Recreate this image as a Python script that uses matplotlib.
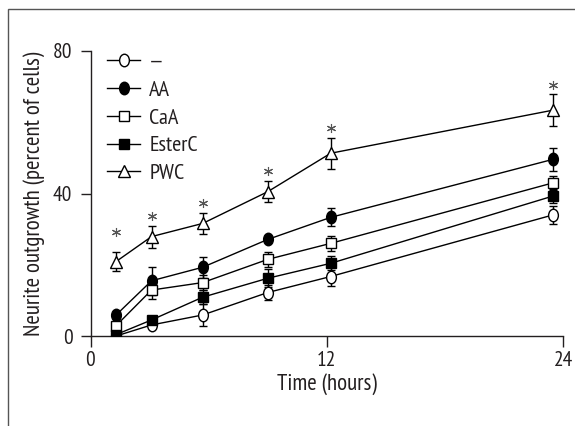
import matplotlib
matplotlib.use("Agg")
import matplotlib.pyplot as plt
from matplotlib.lines import Line2D
from matplotlib.path import Path
from matplotlib.transforms import Affine2D, offset_copy
from matplotlib.patches import Rectangle

plt.rcParams['font.family'] = ['PT Sans Narrow', 'Fira Sans Condensed', 'DejaVu Sans']
ink = '#231f20'

# time points (hours) as drawn
hours = [1.3, 3.1, 5.7, 9.0, 12.2, 23.5]

ctrl = [0.0, 3.1, 5.9, 12.2, 16.7, 34.0]
ctrl_err = [0, 0, 3.0, 2.0, 2.8, 2.5]
aa = [5.9, 15.5, 19.3, 27.1, 33.3, 49.6]
aa_err = [0, 3.9, 3.0, 0, 2.5, 3.3]
caa = [2.9, 12.9, 15.0, 21.5, 26.0, 43.0]
caa_err = [0, 2.6, 2.0, 2.0, 2.0, 2.0]
esterc = [0.4, 4.5, 10.9, 16.2, 20.4, 39.3]
esterc_err = [0, 0, 2.0, 2.5, 2.0, 2.0]
pwc = [20.9, 27.9, 31.6, 40.5, 51.3, 63.4]
pwc_err = [2.7, 3.1, 3.0, 3.0, 4.3, 4.4]

labels = ['\u2014', 'AA', 'CaA', 'EsterC', 'PWC']

# slightly tall ellipse for the circle markers
ellipse = Path.unit_circle().transformed(Affine2D().scale(0.78, 1.0))

series = [
    (ctrl, ctrl_err, ellipse, 'white', 9),
    (aa, aa_err, ellipse, 'black', 9),
    (caa, caa_err, 's', 'white', 6.5),
    (esterc, esterc_err, 's', 'black', 6.5),
    (pwc, pwc_err, '^', 'white', 9),
]

fig = plt.figure(figsize=(5.75, 4.26), dpi=100)
ax = fig.add_axes([90.5 / 575, 90 / 426, 472.5 / 575, 285 / 426])

handles = []
for (vals, errs, mk, fc, ms), lab in zip(series, labels):
    ax.errorbar(hours, vals, yerr=errs, color='black', lw=1.0, elinewidth=1.0,
                capsize=3.2, capthick=1.0, marker=mk, markersize=ms,
                markerfacecolor=fc, markeredgecolor='black', markeredgewidth=1.0,
                zorder=3)
    handles.append(Line2D([], [], color='black', lw=1.0, marker=mk, markersize=ms,
                          markerfacecolor=fc, markeredgecolor='black',
                          markeredgewidth=1.0, label=lab))

# significance asterisks above the PWC error bars
for i, (h, v, e) in enumerate(zip(hours, pwc, pwc_err)):
    lift = 14 if i == 0 else 7
    tr = offset_copy(ax.transData, fig=fig, y=lift, units='points')
    ax.plot([h], [v + e], transform=tr, marker=(6, 2, 0), markersize=6.5,
            color='#555555', markeredgewidth=0.8, linestyle='none', clip_on=False)

ax.set_xlim(0, 24)
ax.set_ylim(0, 80)
ax.set_xticks([0, 12, 24])
ax.set_yticks([0, 40, 80])
ax.spines['top'].set_visible(False)
ax.spines['right'].set_visible(False)
for s in ('left', 'bottom'):
    ax.spines[s].set_linewidth(1.0)
    ax.spines[s].set_color(ink)
ax.tick_params(axis='y', direction='out', length=7, width=1.0, labelsize=15.5,
               pad=6, colors=ink)
ax.tick_params(axis='x', direction='out', length=8, width=1.0, labelsize=15.5,
               pad=3, colors=ink)
ax.set_xlabel('Time (hours)', fontsize=16.5, labelpad=2, color=ink)
ax.set_ylabel('Neurite outgrowth (percent of cells)', fontsize=16.5, labelpad=6,
              color=ink)

ax.legend(handles=handles, loc='upper left', bbox_to_anchor=(0.035, 0.995),
          frameon=False, fontsize=16, handlelength=1.5, handletextpad=0.4,
          labelspacing=0.37, borderaxespad=0, borderpad=0, labelcolor=ink)

# figure frame
fig.patches.append(Rectangle((8 / 575, -0.05), 1.1, (426 - 9) / 426 + 0.05,
                             transform=fig.transFigure, fill=False,
                             edgecolor='#555555', lw=1.0))

fig.savefig('out.png', dpi=100)
